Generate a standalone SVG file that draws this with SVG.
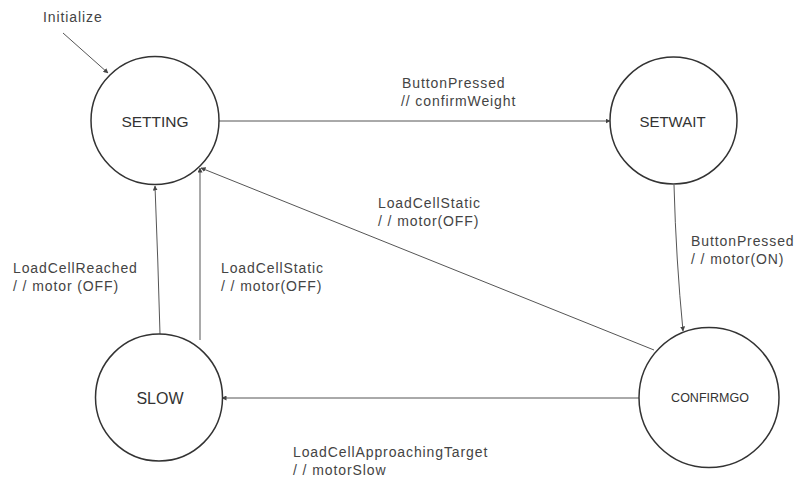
<svg xmlns="http://www.w3.org/2000/svg" width="794" height="480" viewBox="0 0 794 480">
<style>
.node{fill:#fff;stroke:#333;stroke-width:1.5}
.edge{fill:none;stroke:#555;stroke-width:1}
.nl{font-family:"Liberation Sans",Arial,sans-serif;fill:#333;text-anchor:middle}
.lbl{font-family:"Liberation Sans",Arial,sans-serif;font-size:14px;letter-spacing:0.9px;fill:#444}
</style>
<defs>
<marker id="ah" viewBox="0 0 10 10" refX="9" refY="5" markerWidth="5" markerHeight="5" markerUnits="userSpaceOnUse" orient="auto">
<path d="M0,0 L10,5 L0,10 z" fill="#444"/>
</marker>
</defs>
<rect width="794" height="480" fill="#fff"/>
<g id="connectors">
<line class="edge" x1="63" y1="33" x2="108" y2="73" marker-end="url(#ah)"/>
<line class="edge" x1="219" y1="121" x2="610" y2="121" marker-end="url(#ah)"/>
<path class="edge" d="M674,185 Q676,260 683,331" marker-end="url(#ah)"/>
<line class="edge" x1="654" y1="350" x2="201" y2="168" marker-end="url(#ah)"/>
<path class="edge" d="M160,334 Q158,260 155,186" marker-end="url(#ah)"/>
<line class="edge" x1="200" y1="340" x2="200" y2="168" marker-end="url(#ah)"/>
<line class="edge" x1="639" y1="398" x2="222" y2="398" marker-end="url(#ah)"/>
</g>
<g id="SETTING">
<circle class="node" cx="155" cy="120.5" r="64"/>
<text class="nl" x="155" y="127" font-size="15.5">SETTING</text>
</g>
<g id="SETWAIT">
<circle class="node" cx="673.5" cy="120.5" r="63.5"/>
<text class="nl" x="672.5" y="127" font-size="15">SETWAIT</text>
</g>
<g id="SLOW">
<circle class="node" cx="159" cy="397.5" r="63.5"/>
<text class="nl" x="160" y="404" font-size="16">SLOW</text>
</g>
<g id="CONFIRMGO">
<circle class="node" cx="709" cy="397.5" r="70"/>
<text class="nl" x="710" y="402" font-size="12.5">CONFIRMGO</text>
</g>
<g id="labels">
<text class="lbl" x="43" y="22">Initialize</text>
<text class="lbl" x="402" y="88">ButtonPressed</text>
<text class="lbl" x="401" y="106">// confirmWeight</text>
<text class="lbl" x="378" y="208">LoadCellStatic</text>
<text class="lbl" x="378" y="226">/ / motor(OFF)</text>
<text class="lbl" x="691" y="246">ButtonPressed</text>
<text class="lbl" x="691" y="264">/ / motor(ON)</text>
<text class="lbl" x="13" y="273">LoadCellReached</text>
<text class="lbl" x="13" y="291">/ / motor (OFF)</text>
<text class="lbl" x="221" y="273">LoadCellStatic</text>
<text class="lbl" x="221" y="291">/ / motor(OFF)</text>
<text class="lbl" x="293" y="457">LoadCellApproachingTarget</text>
<text class="lbl" x="293" y="475">/ / motorSlow</text>
</g>
</svg>
